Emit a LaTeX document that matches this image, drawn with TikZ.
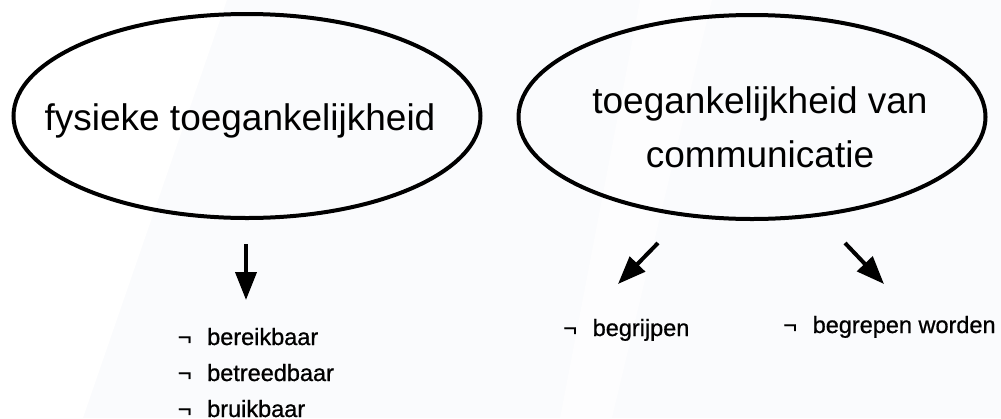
\documentclass[tikz,border=0pt]{standalone}
\usepackage{fontspec}
\setmainfont{Liberation Sans}
\newfontface\itemfont{Liberation Sans}[FakeBold=0.8]
\usetikzlibrary{arrows.meta,shapes.geometric}
\definecolor{bgblue}{HTML}{FAFBFD}
\newcommand{\bulletitem}[1]{\makebox[29.5pt][l]{¬}#1}
\begin{document}
\begin{tikzpicture}[x=1pt, y=-1pt,
  main ellipse/.style={ellipse, draw, line width=4pt, minimum width=467pt, minimum height=204pt, inner sep=0pt},
  title/.style={anchor=base, inner sep=0pt, align=center, font=\fontsize{37}{54}\selectfont},
  item/.style={anchor=base west, inner sep=0pt, font=\itemfont\fontsize{23.5}{28}\selectfont},
  big arrow/.style={line width=4pt, -{Triangle[width=21pt,length=28pt]}}]
\useasboundingbox[fill=bgblue] (0,0) rectangle (1001,418);
% faint white stripes of the background
\fill[white] (0,0) -- (227,0) -- (83,418) -- (0,418) -- cycle;
\fill[white!60!bgblue] (640,0) -- (712,0) -- (612,418) -- (560,418) -- cycle;
\begin{scope}
\node[main ellipse] (phys) at (247,116) {};
\node[main ellipse] (comm) at (752,117) {};
\node[title] (physT) at (240,130) {fysieke toegankelijkheid};
\node[title] (commT) at (760,167) {toegankelijkheid van\\communicatie};
%\node[title] () at (,) {};
\end{scope}
\begin{scope}
\foreach \txt [count=\i] in {bereikbaar,betreedbaar,bruikbaar}
  \node[item] (phys\i) at (177.5,{345+36*(\i-1)}) {\bulletitem{\txt}};
\node[item] (comm1) at (563,336) {\bulletitem{begrijpen}};
\node[item] (comm2) at (783,333) {\bulletitem{begrepen worden}};
\end{scope}
\begin{scope}
\coordinate (a1s) at (246,244); \coordinate (a1e) at (246,300);
\coordinate (a2s) at (658,243); \coordinate (a2e) at (618,284);
\coordinate (a3s) at (845,243); \coordinate (a3e) at (884,284);
\draw[big arrow] (a1s) -- (a1e);
\draw[big arrow] (a2s) -- (a2e);
\draw[big arrow] (a3s) -- (a3e);
\end{scope}
\end{tikzpicture}
\end{document}
